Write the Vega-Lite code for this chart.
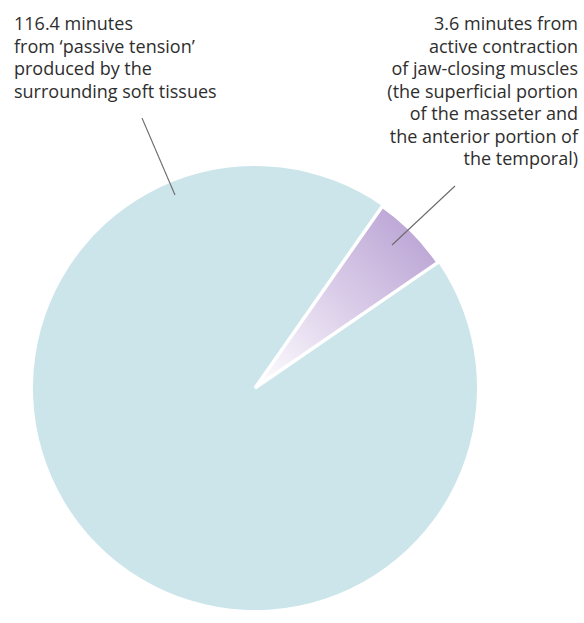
{
  "$schema": "https://vega.github.io/schema/vega-lite/v6.json",
  "width": 444,
  "height": 444,
  "autosize": "none",
  "padding": {"left": 33, "top": 166, "right": 107, "bottom": 13},
  "background": "white",
  "config": {"view": {"stroke": null}},
  "layer": [
    {
      "data": {"values": [
        {"part": "passive", "minutes": 116.4, "share": 94.3},
        {"part": "active", "minutes": 3.6, "share": 5.7}
      ]},
      "transform": [
        {"stack": "share", "groupby": [], "as": ["s0", "s1"], "sort": [{"field": "share", "order": "ascending"}]}
      ],
      "layer": [
        {
          "transform": [{"filter": "datum.part === 'passive'"}],
          "mark": {"type": "arc", "fill": "#cbe5ea"},
          "encoding": {
            "theta": {"field": "s0", "type": "quantitative", "scale": {"domain": [0, 100], "range": [0.6109, 6.8941]}},
            "theta2": {"field": "s1"}
          }
        },
        {
          "transform": [{"filter": "datum.part === 'active'"}],
          "mark": {
            "type": "arc",
            "stroke": "white",
            "strokeWidth": 3.5,
            "fill": {
              "gradient": "linear",
              "x1": 0, "y1": 1, "x2": 1, "y2": 0,
              "stops": [
                {"offset": 0, "color": "#ffffff"},
                {"offset": 0.45, "color": "#ddd0ea"},
                {"offset": 1, "color": "#b39bd0"}
              ]
            }
          },
          "encoding": {
            "theta": {"field": "s0", "type": "quantitative"},
            "theta2": {"field": "s1"}
          }
        }
      ]
    },
    {
      "data": {"values": [{"side": "passive"}]},
      "mark": {"type": "rule", "color": "#6b6b6b", "strokeWidth": 1.1},
      "encoding": {
        "x": {"value": 109}, "y": {"value": -48},
        "x2": {"value": 142}, "y2": {"value": 29}
      }
    },
    {
      "data": {"values": [{"side": "active"}]},
      "mark": {"type": "rule", "color": "#6b6b6b", "strokeWidth": 1.1},
      "encoding": {
        "x": {"value": 422}, "y": {"value": 20},
        "x2": {"value": 359}, "y2": {"value": 79}
      }
    },
    {
      "data": {"values": [{"label": ["116.4 minutes", "from ‘passive tension’", "produced by the", "surrounding soft tissues"]}]},
      "mark": {"type": "text", "align": "left", "baseline": "alphabetic", "font": "Open Sans", "fontSize": 18, "fontWeight": 500, "lineHeight": 22.5, "color": "#2e2e2e", "x": -19, "y": -136},
      "encoding": {"text": {"field": "label"}}
    },
    {
      "data": {"values": [{"label": ["3.6 minutes from", "active contraction", "of jaw-closing muscles", "(the superficial portion", "of the masseter and", "the anterior portion of", "the temporal)"]}]},
      "mark": {"type": "text", "align": "right", "baseline": "alphabetic", "font": "Open Sans", "fontSize": 18, "fontWeight": 500, "lineHeight": 22.5, "color": "#2e2e2e", "x": 545, "y": -136},
      "encoding": {"text": {"field": "label"}}
    }
  ]
}
